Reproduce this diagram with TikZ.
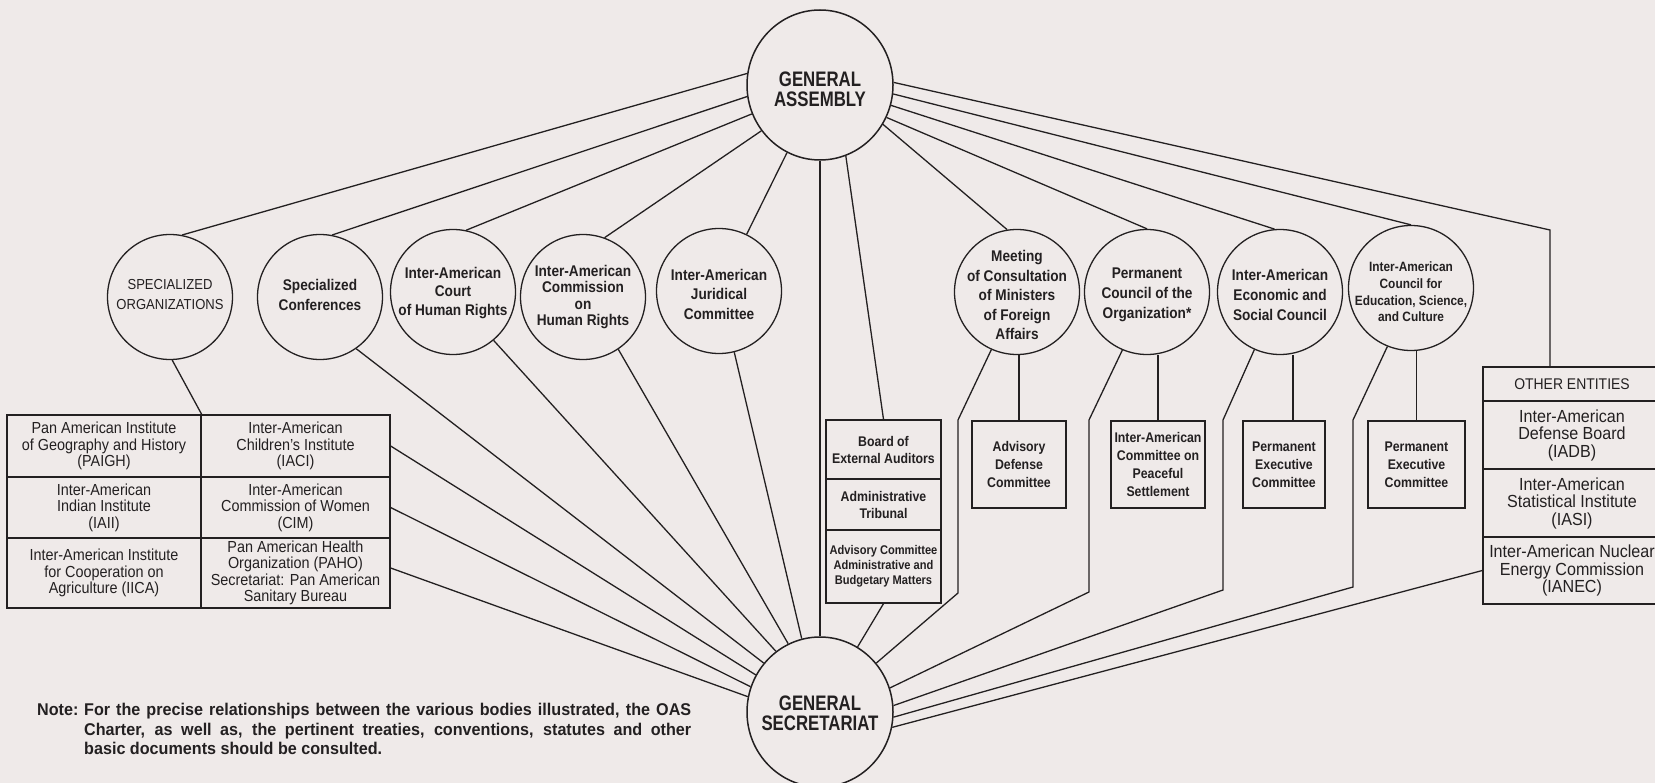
\documentclass[tikz,border=0pt]{standalone}
\usepackage{fontspec}
\setmainfont{Liberation Sans}
\newfontfamily\cnd[FakeStretch=0.9]{Liberation Sans}
\newfontfamily\cndo[FakeStretch=0.92]{Liberation Sans}
\newfontfamily\cndb[FakeStretch=0.88]{Liberation Sans}
\newfontfamily\cndc[FakeStretch=0.8]{Liberation Sans}
\newfontfamily\cndn[FakeStretch=0.95]{Liberation Sans}
\usetikzlibrary{shapes.geometric}
\definecolor{paper}{RGB}{239,234,233}
\definecolor{ink}{RGB}{35,32,33}
\begin{document}
\begin{tikzpicture}[x=1pt,y=-1pt,
  lk/.style={draw=ink,line width=1.3pt},
  bigc/.style={ellipse,draw=ink,line width=1.5pt,minimum width=146pt,minimum height=150pt,inner sep=0pt},
  bigtxt/.style={inner sep=0pt,align=center,text=ink,font=\cndc\bfseries\fontsize{21}{20}\selectfont},
  circ/.style={ellipse,draw=ink,line width=1.3pt,minimum width=125pt,minimum height=125pt,inner sep=0pt},
  ctxt/.style={inner sep=0pt,align=center,text=ink,font=\cndb\bfseries\fontsize{15.5}{19.5}\selectfont},
  cell/.style={rectangle,draw=ink,line width=1.3pt,inner sep=0pt,align=center,text=ink,font=\cnd\fontsize{16}{16.5}\selectfont},
  bx/.style={rectangle,draw=ink,line width=1.3pt,inner sep=0pt,align=center,text=ink,font=\cndb\bfseries\fontsize{14}{18}\selectfont},
  oecell/.style={rectangle,draw=ink,line width=1.3pt,inner sep=0pt,align=center,text=ink,font=\cndo\fontsize{17.5}{17.5}\selectfont},
]
\fill[paper] (0,0) rectangle (1655,783);
\useasboundingbox (0,0) rectangle (1655,783);

% main circles
\node[bigc] (ga) at (820,85) {};
\node[bigtxt] (gat) at (820,89) {GENERAL\\ASSEMBLY};
\node[bigc] (gs) at (820,712) {};
\node[bigtxt] (gst) at (820,713) {GENERAL\\SECRETARIAT};

% left circles
\node[circ] (so) at (170,297) {};
\node[ctxt,font=\cnd\fontsize{14.5}{20}\selectfont] (sot) at (170,295) {SPECIALIZED\\ORGANIZATIONS};
\node[circ] (sc) at (320,297) {};
\node[ctxt,font=\cndb\bfseries\fontsize{15.5}{20}\selectfont] (sct) at (320,295) {Specialized\\Conferences};
\node[circ] (ct) at (453,292) {};
\node[ctxt,font=\cndb\bfseries\fontsize{15.5}{18.5}\selectfont] (ctt) at (453,293) {Inter-American\\Court\\of Human Rights};
\node[circ] (cm) at (583,297) {};
\node[ctxt,font=\cndb\bfseries\fontsize{15.5}{16.5}\selectfont] (cmt) at (583,297) {Inter-American\\Commission\\on\\Human Rights};
\node[circ] (jc) at (719,291) {};
\node[ctxt] (jct) at (719,294) {Inter-American\\Juridical\\Committee};

% right circles
\node[circ] (mt) at (1017,292) {};
\node[ctxt] (mtt) at (1017,295) {Meeting\\of Consultation\\of Ministers\\of Foreign\\Affairs};
\node[circ] (pc) at (1147,292) {};
\node[ctxt,font=\cndb\bfseries\fontsize{15.5}{20}\selectfont] (pct) at (1147,295) {Permanent\\Council of the\\Organization*};
\node[circ] (ec) at (1280,292) {};
\node[ctxt,font=\cndb\bfseries\fontsize{15.5}{20}\selectfont] (ect) at (1280,295) {Inter-American\\Economic and\\Social Council};
\node[circ] (ed) at (1411,288) {};
\node[ctxt,font=\cndb\bfseries\fontsize{13.5}{16.7}\selectfont] (edt) at (1411,292) {Inter-American\\Council for\\Education, Science,\\and Culture};

% specialized organizations table
\node[cell,minimum width=194pt,minimum height=62pt] (t11) at (104,446) {Pan American Institute\\of Geography and History\\(PAIGH)};
\node[cell,minimum width=189pt,minimum height=62pt] (t12) at (295.5,446) {Inter-American\\Children’s Institute\\(IACI)};
\node[cell,minimum width=194pt,minimum height=61pt] (t21) at (104,507.5) {Inter-American\\Indian Institute\\(IAII)};
\node[cell,minimum width=189pt,minimum height=61pt] (t22) at (295.5,507.5) {Inter-American\\Commission of Women\\(CIM)};
\node[cell,minimum width=194pt,minimum height=70pt] (t31) at (104,573) {Inter-American Institute\\for Cooperation on\\Agriculture (IICA)};
\node[cell,minimum width=189pt,minimum height=70pt] (t32) at (295.5,573) {Pan American Health\\Organization (PAHO)\\Secretariat: Pan American\\Sanitary Bureau};

% board stack
\node[bx,minimum width=115pt,minimum height=59pt,font=\cndb\bfseries\fontsize{14}{17}\selectfont] (b1) at (883.5,449.5) {Board of\\External Auditors};
\node[bx,minimum width=115pt,minimum height=51pt,font=\cndb\bfseries\fontsize{14}{17}\selectfont] (b2) at (883.5,504.5) {Administrative\\Tribunal};
\node[bx,minimum width=115pt,minimum height=73pt,font=\cndb\bfseries\fontsize{12.6}{15}\selectfont] (b3) at (883.5,566.5) {Advisory Committee\\Administrative and\\Budgetary Matters};

% boxes under the councils
\node[bx,minimum width=94pt,minimum height=87pt] (ad) at (1019,464.5) {Advisory\\Defense\\Committee};
\node[bx,minimum width=94pt,minimum height=87pt] (ps) at (1158,464.5) {Inter-American\\Committee on\\Peaceful\\Settlement};
\node[bx,minimum width=82pt,minimum height=87pt] (pe1) at (1284,464.5) {Permanent\\Executive\\Committee};
\node[bx,minimum width=97pt,minimum height=87pt] (pe2) at (1416.5,464.5) {Permanent\\Executive\\Committee};

% other entities
\node[oecell,minimum width=178pt,minimum height=34pt,font=\cnd\fontsize{15.5}{17}\selectfont] (oe0) at (1572,384) {OTHER ENTITIES};
\node[oecell,minimum width=178pt,minimum height=68pt] (oe1) at (1572,435) {Inter-American\\Defense Board\\(IADB)};
\node[oecell,minimum width=178pt,minimum height=68pt] (oe2) at (1572,503) {Inter-American\\Statistical Institute\\(IASI)};
\node[oecell,minimum width=178pt,minimum height=67pt] (oe3) at (1572,570.5) {Inter-American Nuclear\\Energy Commission\\(IANEC)};

% helper coordinates
\coordinate (oec) at (1550,230);
\coordinate (ecx) at (1293,0);
\coordinate (m1) at (958,420);  \coordinate (m2) at (958,593);
\coordinate (p1) at (1089,420); \coordinate (p2) at (1089,592);
\coordinate (e1) at (1223,420); \coordinate (e2) at (1223,590);
\coordinate (d1) at (1353,420); \coordinate (d2) at (1353,587);

% connectors from the General Assembly
\draw[lk] (ga.171) -- (so.79);
\draw[lk] (ga.189) -- (sc.79);
\draw[lk] (ga.203) -- (ct.78);
\draw[lk] (ga.218) -- (cm.70);
\draw[lk] (ga.244) -- (jc.64);
\draw[lk] (ga.south) -- (gs.north);
\draw[lk] (ga.290) -- (b1.north);
\draw[lk] (ga.328) -- (mt.99);
\draw[lk] (ga.334) -- (pc.90);
\draw[lk] (ga.344) -- (ec.95);
\draw[lk] (ga.353) -- (ed.90);
\draw[lk] (ga.2) -- (oec) -- (oe0.north -| oec);

% specialized organizations to the table
\draw[lk] (so.272) -- (t11.north east);

% connectors to the General Secretariat (left)
\draw[lk] (t12.east) -- (gs.150);
\draw[lk] (t22.east) -- (gs.160);
\draw[lk] ([yshift=5pt]t32.east) -- (gs.168);
\draw[lk] (sc.305) -- (gs.139);
\draw[lk] (ct.310) -- (gs.126);
\draw[lk] (cm.304) -- (gs.115);
\draw[lk] (jc.284) -- (gs.104);

% councils to their committees
\draw[lk] (ad.north) -- (ad.north |- mt.south);
\draw[lk] (ps.north) -- (ps.north |- pc.south);
\draw[lk] (pe1.north -| ecx) -- (ec.south -| ecx);
\draw[lk] (pe2.north) -- (pe2.north |- ed.south);

% councils to the General Secretariat
\draw[lk] (mt.246) -- (m1) -- (m2) -- (gs.41);
\draw[lk] (pc.247) -- (p1) -- (p2) -- (gs.19);
\draw[lk] (ec.246) -- (e1) -- (e2) -- (gs.5);
\draw[lk] (ed.248) -- (d1) -- (d2) -- (gs.356);
\draw[lk] (b3.south) -- (gs.60);
\draw[lk] (oe3.west) -- (gs.348);

% note
\node[anchor=north west,inner sep=0pt,align=left,text=ink,font=\cndn\bfseries\fontsize{17}{19.5}\selectfont] (note) at (37,703)
  {\makebox[47pt][l]{Note:}\makebox[607pt][s]{For the precise relationships between the various bodies illustrated, the OAS}\\
   \hspace*{47pt}\makebox[607pt][s]{Charter, as well as, the pertinent treaties, conventions, statutes and other}\\
   \hspace*{47pt}basic documents should be consulted.};
\end{tikzpicture}
\end{document}
